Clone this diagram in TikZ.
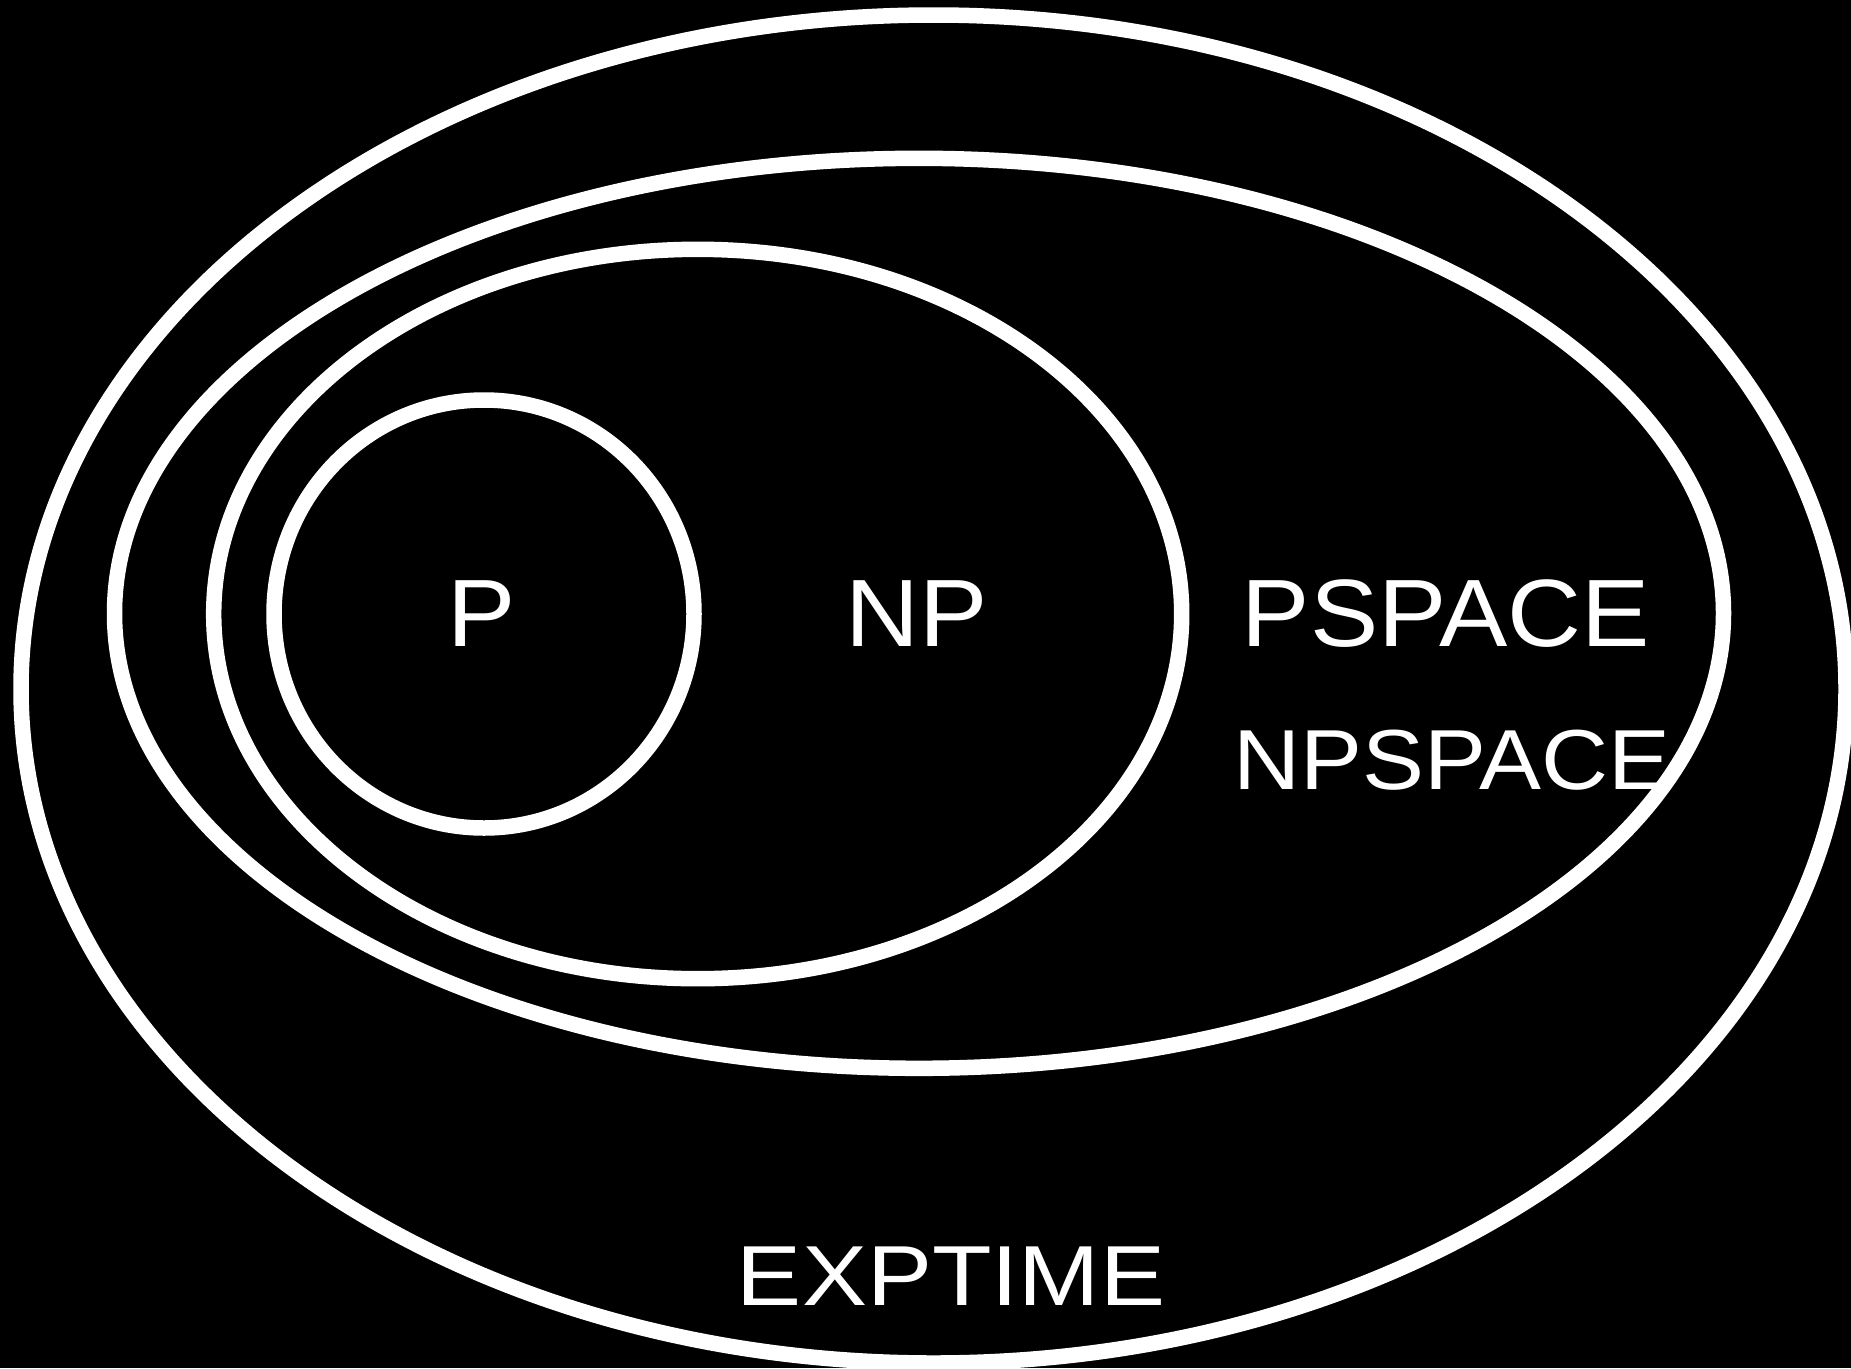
\documentclass[tikz,border=0pt]{standalone}
\usepackage{fontspec}
\setmainfont{Liberation Sans}
\begin{document}
\begin{tikzpicture}[x=1pt,y=-1pt,
  ring/.style={draw=white,line width=15.5pt},
  biglab/.style={text=white,inner sep=0pt,anchor=base,font=\fontsize{95.7}{100}\selectfont,xscale=1.07},
  smalllab/.style={text=white,inner sep=0pt,anchor=base,font=\fontsize{85.2}{90}\selectfont,xscale=1.09}]
\fill[black] (0,0) rectangle (1851,1368);
\useasboundingbox (0,0) rectangle (1851,1368);
\draw[ring] (933.5,689) ellipse [x radius=912.5, y radius=674];
\draw[ring] (919,613.3) ellipse [x radius=804.5, y radius=455];
\draw[ring] (697.7,614) ellipse [x radius=484, y radius=364.7];
\draw[ring] (484,614) ellipse [x radius=210, y radius=214];
\node[biglab] (p) at (481.5,646) {P};
\node[biglab] (np) at (916.7,646) {NP};
\node[biglab] (ps) at (1445.9,646.7) {PSPACE};
\node[smalllab] (nps) at (1452.2,789.3) {NPSPACE};
\node[smalllab,xscale=1.05] (ex) at (951,1305.3) {EXPTIME};
\end{tikzpicture}
\end{document}
